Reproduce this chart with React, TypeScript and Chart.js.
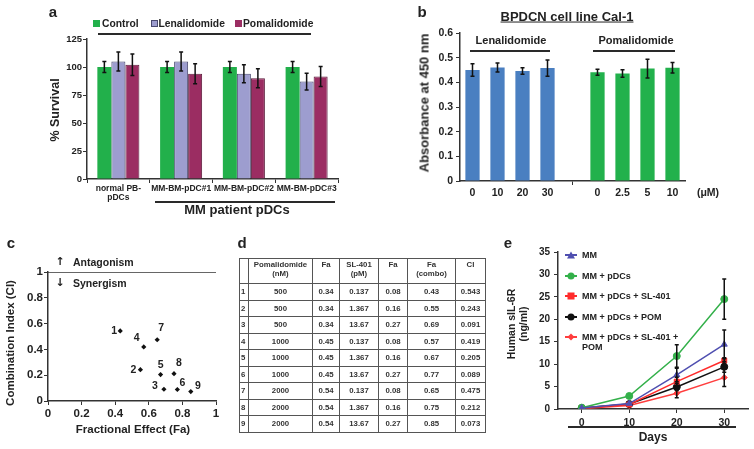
import React, { useEffect, useRef } from 'react';
import { Chart, registerables } from 'chart.js';
Chart.register(...registerables);

const FONT = '"Liberation Sans", Arial, Helvetica, sans-serif';
Chart.defaults.font.family = FONT;
Chart.defaults.font.weight = 'bold';
Chart.defaults.color = '#222';

// ---------- Panel a ----------
const aCategories = [['normal PB-', 'pDCs'], 'MM-BM-pDC#1', 'MM-BM-pDC#2', 'MM-BM-pDC#3'];
const aSeriesNames = ['Control', 'Lenalidomide', 'Pomalidomide'];
const aControl = [100, 100, 100, 100];
const aControlErr = [5, 5, 5, 5];
const aLena = [105, 105, 94, 87];
const aLenaErr = [8.5, 8.5, 8, 7.5];
const aPoma = [102, 94, 90, 91.5];
const aPomaErr = [9.5, 9, 8.5, 9];

// ---------- Panel b ----------
const bCategories = ['0', '10', '20', '30', '', '0', '2.5', '5', '10'];
const bValues = [0.45, 0.46, 0.446, 0.458, null, 0.441, 0.436, 0.456, 0.459];
const bErrors = [0.025, 0.018, 0.013, 0.033, null, 0.012, 0.015, 0.038, 0.021];
const bDrug = ['Lenalidomide', 'Lenalidomide', 'Lenalidomide', 'Lenalidomide', '', 'Pomalidomide', 'Pomalidomide', 'Pomalidomide', 'Pomalidomide'];

// ---------- Panel d (table) / c (scatter) ----------
const dRowIds = ['1', '2', '3', '4', '5', '6', '7', '8', '9'];
const dPomDose = [500, 500, 500, 1000, 1000, 1000, 2000, 2000, 2000];
const dFaPom = ['0.34', '0.34', '0.34', '0.45', '0.45', '0.45', '0.54', '0.54', '0.54'];
const dSL401 = ['0.137', '1.367', '13.67', '0.137', '1.367', '13.67', '0.137', '1.367', '13.67'];
const dFaSL = ['0.08', '0.16', '0.27', '0.08', '0.16', '0.27', '0.08', '0.16', '0.27'];
const dFaCombo = [0.43, 0.55, 0.69, 0.57, 0.67, 0.77, 0.65, 0.75, 0.85];
const dCI = [0.543, 0.243, 0.091, 0.419, 0.205, 0.089, 0.475, 0.212, 0.073];
const dHeaders = [[''], ['Pomalidomide', '(nM)'], ['Fa'], ['SL-401', '(pM)'], ['Fa'], ['Fa', '(combo)'], ['CI']];
const ciThreshold = 1;

// ---------- Panel e ----------
const eDays = ['0', '10', '20', '30'];
const eNames = ['MM', 'MM + pDCs', 'MM + pDCs + SL-401', 'MM + pDCs + POM', 'MM + pDCs + SL-401 + POM'];
const eMM = [0.2, 1.2, 7.6, 14.4];
const eMMErr = [0, 0, 1.5, 3.2];
const ePDC = [0.3, 2.9, 11.8, 24.5];
const ePDCErr = [0, 0, 2.5, 4.5];
const eSL = [0.2, 1.0, 6.1, 10.8];
const eSLErr = [0, 0, 1, 0.6];
const ePOM = [0.2, 1.1, 4.9, 9.4];
const ePOMErr = [0, 0, 0.8, 1.2];
const eCombo = [0.1, 0.8, 3.5, 7.0];
const eComboErr = [0, 0, 1, 2];

// ---------- styles ----------
const aColors = ['#22b04b', '#9d9dcf', '#9b2d62'];
const aBorders = ['#22b04b', '#4a4a70', '#5b1a3a'];
const bColorMap: Record<string, string> = { Lenalidomide: '#4a7fc1', Pomalidomide: '#22b14c', '': '#fff' };
const eColors = ['#4f4fb0', '#33b04a', '#ff2b2b', '#111111', '#ff3d3d'];
const eStyles = ['triangle', 'circle', 'rect', 'circle', 'rectRot'];
const cLabelOffsets = [[-6, 0], [-7, 0], [-9, -3], [-7, -9], [0, -9], [5, -6], [4, -12], [5, -11], [7, -5]];

const fmtShort = (v: any) => String(Number(Number(v).toFixed(2)));

const errorBarPlugin = {
  id: 'errorBars',
  afterDatasetsDraw(chart: any) {
    const ctx = chart.ctx;
    chart.data.datasets.forEach((ds: any, i: number) => {
      if (!ds.errors) return;
      const meta = chart.getDatasetMeta(i);
      const yScale = chart.scales[meta.yAxisID];
      meta.data.forEach((el: any, j: number) => {
        const err = ds.errors[j];
        const v = ds.data[j];
        if (!err || v == null) return;
        const val = typeof v === 'object' ? v.y : v;
        const x = el.x;
        const yTop = yScale.getPixelForValue(val + err);
        const yBot = yScale.getPixelForValue(val - err);
        const cap = ds.errorCap ?? 2;
        ctx.save();
        ctx.strokeStyle = '#111';
        ctx.lineWidth = 1.5;
        ctx.beginPath();
        ctx.moveTo(x, yTop); ctx.lineTo(x, yBot);
        ctx.moveTo(x - cap, yTop); ctx.lineTo(x + cap, yTop);
        ctx.moveTo(x - cap, yBot); ctx.lineTo(x + cap, yBot);
        ctx.stroke();
        ctx.restore();
      });
    });
  },
};

const pointLabelPlugin = {
  id: 'pointLabels',
  afterDatasetsDraw(chart: any) {
    const ctx = chart.ctx;
    chart.data.datasets.forEach((ds: any, i: number) => {
      if (!ds.pointLabels) return;
      const meta = chart.getDatasetMeta(i);
      ctx.save();
      ctx.font = `bold 10.5px ${FONT}`;
      ctx.fillStyle = '#222';
      ctx.textAlign = 'center';
      ctx.textBaseline = 'middle';
      meta.data.forEach((el: any, j: number) => {
        const [dx, dy] = cLabelOffsets[j];
        ctx.fillText(ds.pointLabels[j], el.x + dx, el.y + dy);
      });
      ctx.restore();
    });
  },
};

const axisBorder = { color: '#333', width: 1.5 };

function makeA(): any {
  const vals = [aControl, aLena, aPoma];
  const errs = [aControlErr, aLenaErr, aPomaErr];
  return {
    type: 'bar',
    data: {
      labels: aCategories,
      datasets: aSeriesNames.map((n, i) => ({
        label: n, data: vals[i], errors: errs[i],
        backgroundColor: aColors[i], borderColor: aBorders[i], borderWidth: i === 0 ? 0 : 1,
        categoryPercentage: 0.67, barPercentage: 1,
      })),
    },
    options: {
      animation: false, responsive: false, devicePixelRatio: 1,
      layout: { padding: { left: 0, top: 39, right: 39, bottom: 0 } },
      plugins: { legend: { display: false }, tooltip: { enabled: false } },
      scales: {
        x: {
          grid: { drawOnChartArea: false, tickLength: 4, color: '#333', offset: true },
          border: axisBorder,
          ticks: { font: { size: 8.5, weight: 'bold', lineHeight: 1.1 }, color: '#222', padding: 1, maxRotation: 0, autoSkip: false },
          afterFit: (s: any) => { s.height = 26; },
        },
        y: {
          min: 0, max: 125,
          ticks: { stepSize: 25, font: { size: 9.5, weight: 'bold' }, color: '#222', padding: 1 },
          grid: { drawOnChartArea: false, tickLength: 4, color: '#333' },
          border: axisBorder,
          afterFit: (s: any) => { s.width = 87; },
        },
      },
    },
    plugins: [errorBarPlugin],
  };
}

function makeB(): any {
  return {
    type: 'bar',
    data: {
      labels: bCategories,
      datasets: [{
        data: bValues, errors: bErrors,
        backgroundColor: bDrug.map((d) => bColorMap[d]),
        borderWidth: 0, categoryPercentage: 1, barPercentage: 0.57,
      }],
    },
    options: {
      animation: false, responsive: false, devicePixelRatio: 1,
      layout: { padding: { left: 0, top: 33, right: 69, bottom: 0 } },
      plugins: { legend: { display: false }, tooltip: { enabled: false } },
      scales: {
        x: {
          grid: { drawOnChartArea: false, tickLength: 4, offset: false, color: (c: any) => (c.index === 4 ? '#333' : 'rgba(0,0,0,0)') },
          border: axisBorder,
          ticks: { font: { size: 10.5, weight: 'bold' }, color: '#222', padding: 2, maxRotation: 0, autoSkip: false },
          afterFit: (s: any) => { s.height = 24; },
        },
        y: {
          min: 0, max: 0.6,
          ticks: { stepSize: 0.1, font: { size: 10.5, weight: 'bold' }, color: '#222', padding: 3, callback: fmtShort },
          grid: { drawOnChartArea: false, tickLength: 4, color: '#333' },
          border: axisBorder,
          afterFit: (s: any) => { s.width = 80; },
        },
      },
    },
    plugins: [errorBarPlugin],
  };
}

function makeC(): any {
  return {
    type: 'scatter',
    data: {
      datasets: [
        {
          data: [{ x: 0, y: ciThreshold }, { x: 1, y: ciThreshold }],
          showLine: true, borderColor: '#333', borderWidth: 1.5, pointRadius: 0,
        },
        {
          data: dFaCombo.map((x, i) => ({ x, y: dCI[i] })),
          pointLabels: dRowIds,
          pointStyle: 'rectRot', pointRadius: 2.6, backgroundColor: '#111', borderColor: '#111', borderWidth: 0,
        },
      ],
    },
    options: {
      animation: false, responsive: false, devicePixelRatio: 1,
      layout: { padding: { left: 0, top: 57, right: 19, bottom: 0 } },
      plugins: { legend: { display: false }, tooltip: { enabled: false } },
      scales: {
        x: {
          type: 'linear', min: 0, max: 1,
          grid: { drawOnChartArea: false, tickLength: 4, color: '#333' },
          border: axisBorder,
          ticks: { stepSize: 0.2, font: { size: 11.5, weight: 'bold' }, color: '#222', padding: 2, callback: fmtShort },
          afterFit: (s: any) => { s.height = 48; },
        },
        y: {
          min: 0, max: 1,
          grid: { drawOnChartArea: false, tickLength: 4, color: '#333' },
          border: axisBorder,
          ticks: { stepSize: 0.2, font: { size: 11.5, weight: 'bold' }, color: '#222', padding: 1, callback: fmtShort },
          afterFit: (s: any) => { s.width = 48; },
        },
      },
    },
    plugins: [pointLabelPlugin],
  };
}

function makeE(): any {
  const vals = [eMM, ePDC, eSL, ePOM, eCombo];
  const errs = [eMMErr, ePDCErr, eSLErr, ePOMErr, eComboErr];
  return {
    type: 'line',
    data: {
      labels: eDays,
      datasets: eNames.map((n, i) => ({
        label: n, data: vals[i], errors: errs[i],
        borderColor: eColors[i], backgroundColor: eColors[i],
        pointStyle: eStyles[i], pointRadius: i === 4 ? 3 : 3.5, borderWidth: 1.5, pointBorderWidth: 1,
      })),
    },
    options: {
      animation: false, responsive: false, devicePixelRatio: 1,
      layout: { padding: { left: 0, top: 37, right: 6, bottom: 0 } },
      plugins: { legend: { display: false }, tooltip: { enabled: false } },
      scales: {
        x: {
          offset: true,
          grid: { drawOnChartArea: false, tickLength: 4, color: '#333', offset: false },
          border: axisBorder,
          ticks: { font: { size: 10.5, weight: 'bold' }, color: '#222', padding: 4, maxRotation: 0 },
          afterFit: (s: any) => { s.height = 40; },
        },
        y: {
          min: 0, max: 35,
          ticks: { stepSize: 5, font: { size: 10, weight: 'bold' }, color: '#222', padding: 4 },
          grid: { drawOnChartArea: false, tickLength: 4, color: '#333' },
          border: axisBorder,
          afterFit: (s: any) => { s.width = 68; },
        },
      },
    },
    plugins: [errorBarPlugin],
  };
}

function ChartBox({ make, left, top, width, height }: any) {
  const ref = useRef<HTMLCanvasElement>(null);
  useEffect(() => {
    const chart = new Chart(ref.current as HTMLCanvasElement, make());
    return () => chart.destroy();
  }, []);
  return (
    <canvas ref={ref} width={width} height={height}
      style={{ position: 'absolute', left, top, width, height }} />
  );
}

function T({ x, y, s, size = 11, rot = false, left = false, weight = 'bold', style = {} }: any) {
  return (
    <div style={{
      position: 'absolute', left: x, top: y, fontSize: size, fontWeight: weight, whiteSpace: 'nowrap',
      lineHeight: 1.15, color: '#222',
      transform: `translate(${left ? '0' : '-50%'}, -50%)${rot ? ' rotate(-90deg)' : ''}`,
      ...style,
    }}>{s}</div>
  );
}

function HLine({ x, y, w, h = 2 }: any) {
  return <div style={{ position: 'absolute', left: x, top: y, width: w, height: h, background: '#2a2a2a' }} />;
}

function Marker({ style, color }: any) {
  if (style === 'triangle') {
    return <div style={{ width: 0, height: 0, borderLeft: '4px solid transparent', borderRight: '4px solid transparent', borderBottom: `7px solid ${color}` }} />;
  }
  if (style === 'circle') return <div style={{ width: 7, height: 7, borderRadius: '50%', background: color }} />;
  if (style === 'rect') return <div style={{ width: 7, height: 7, background: color }} />;
  return <div style={{ width: 5, height: 5, background: color, transform: 'rotate(45deg)' }} />;
}

export default function App() {
  const cell = { border: '1px solid #555', padding: 0 } as any;
  const eLegendY = [255, 276, 296, 317, 337];
  const arrowStyle = { fontFamily: '"DejaVu Sans", sans-serif' };
  return (
    <div style={{ position: 'absolute', left: 0, top: 0, width: 754, height: 449, background: '#fff', fontFamily: FONT, overflow: 'hidden' }}>
      <ChartBox make={makeA} left={0} top={0} width={377} height={205} />
      <ChartBox make={makeB} left={380} top={0} width={374} height={205} />
      <ChartBox make={makeC} left={0} top={215} width={235} height={234} />
      <ChartBox make={makeE} left={490} top={215} width={264} height={234} />

      {/* Panel a */}
      <T x={53} y={12} s="a" size={15} />
      {aSeriesNames.map((n, i) => {
        const sx = [93, 151, 235][i];
        const tx = [102, 158.5, 243][i];
        return (
          <React.Fragment key={n}>
            <div style={{ position: 'absolute', left: sx, top: 20, width: 7, height: 7, background: aColors[i], boxSizing: 'border-box', border: i === 1 ? '1px solid #4a4a70' : 'none' }} />
            <T x={tx} y={23.5} s={n} size={10.3} left />
          </React.Fragment>
        );
      })}
      <HLine x={98} y={33} w={213} h={2} />
      <T x={55} y={110} s="% Survival" size={12.5} rot />
      <HLine x={155} y={201} w={180} h={1.5} />
      <T x={237} y={210} s="MM patient pDCs" size={13} />

      {/* Panel b */}
      <T x={422} y={12} s="b" size={15} />
      <T x={567} y={17} s="BPDCN cell line Cal-1" size={13} style={{ textDecoration: 'underline' }} />
      <T x={511} y={40} s="Lenalidomide" size={11} />
      <HLine x={470} y={50} w={80} h={2} />
      <T x={636} y={40} s="Pomalidomide" size={11} />
      <HLine x={593} y={50} w={82} h={2} />
      <T x={708} y={192} s="(μM)" size={10.5} />
      <T x={425} y={103} s="Absorbance at 450 nm" size={13} rot />

      {/* Panel c */}
      <T x={11} y={243} s="c" size={15} />
      <T x={60} y={262} s="↑" size={11} style={arrowStyle} />
      <T x={73} y={262} s="Antagonism" size={10.5} left />
      <T x={60} y={283} s="↓" size={11} style={arrowStyle} />
      <T x={73} y={283} s="Synergism" size={10.5} left />
      <T x={133} y={430} s="Fractional Effect (Fa)" size={11.5} />
      <T x={11} y={343} s="Combination Index (CI)" size={11.5} rot />

      {/* Panel d */}
      <T x={242} y={243} s="d" size={15} />
      <table style={{ position: 'absolute', left: 239, top: 258, width: 247, height: 173, borderCollapse: 'collapse', tableLayout: 'fixed', fontSize: 7.8, fontWeight: 'bold', color: '#333', fontFamily: FONT }}>
        <colgroup>{[9, 64, 27, 39, 29, 48, 30].map((w, i) => <col key={i} style={{ width: w }} />)}</colgroup>
        <thead>
          <tr style={{ height: 25 }}>
            {dHeaders.map((h, i) => (
              <th key={i} style={{ ...cell, verticalAlign: 'top', paddingTop: 1, lineHeight: 1.2, fontWeight: 'bold' }}>
                {h.map((l, k) => <div key={k}>{l}</div>)}
              </th>
            ))}
          </tr>
        </thead>
        <tbody>
          {dRowIds.map((id, r) => (
            <tr key={id} style={{ height: 16.5 }}>
              <td style={{ ...cell, textAlign: 'left', paddingLeft: 1 }}>{id}</td>
              <td style={{ ...cell, textAlign: 'center' }}>{dPomDose[r]}</td>
              <td style={{ ...cell, textAlign: 'center' }}>{dFaPom[r]}</td>
              <td style={{ ...cell, textAlign: 'center' }}>{dSL401[r]}</td>
              <td style={{ ...cell, textAlign: 'center' }}>{dFaSL[r]}</td>
              <td style={{ ...cell, textAlign: 'center' }}>{dFaCombo[r].toFixed(2)}</td>
              <td style={{ ...cell, textAlign: 'center' }}>{dCI[r].toFixed(3)}</td>
            </tr>
          ))}
        </tbody>
      </table>

      {/* Panel e */}
      <T x={508} y={243} s="e" size={15} />
      {eNames.map((n, i) => (
        <React.Fragment key={n}>
          <div style={{ position: 'absolute', left: 565, top: eLegendY[i] - 0.75, width: 12, height: 1.5, background: eColors[i] }} />
          <div style={{ position: 'absolute', left: 571, top: eLegendY[i], transform: 'translate(-50%,-50%)' }}>
            <Marker style={eStyles[i]} color={eColors[i]} />
          </div>
          {i < 4 ? (
            <T x={582} y={eLegendY[i]} s={n} size={9} left />
          ) : (
            <div style={{ position: 'absolute', left: 582, top: eLegendY[i] - 5.5, fontSize: 9, fontWeight: 'bold', lineHeight: '10px', color: '#222' }}>
              <div>MM + pDCs + SL-401 +</div>
              <div>POM</div>
            </div>
          )}
        </React.Fragment>
      ))}
      <T x={516.7} y={324} s={<><div>Human sIL-6R</div><div>(ng/ml)</div></>} size={10.5} rot style={{ textAlign: 'center', lineHeight: '12px' }} />
      <HLine x={568} y={426} w={168} h={1.5} />
      <T x={653} y={438} s="Days" size={12} />
    </div>
  );
}
